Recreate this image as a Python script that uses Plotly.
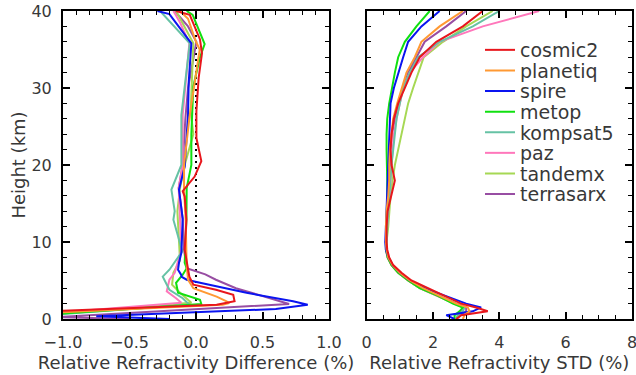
import plotly.graph_objects as go

# ---------------- data ----------------
names = ["cosmic2", "planetiq", "spire", "metop", "kompsat5", "paz", "tandemx", "terrasarx"]
colors = ["#e8161c", "#ff9933", "#0a14f0", "#10e010", "#66c2a5", "#ff77bb", "#a6d854", "#984ea3"]

# Relative refractivity difference (%) profiles: (height km, value)
cosmic2_diff_h = [0.85, 1.85, 2.3, 3.15, 3.8, 4.45, 5.5, 7.3, 9, 12.9, 15.9, 16.6, 18.5, 20.5, 23.5, 27, 31.3, 34.5, 36.3, 39.5, 40]
cosmic2_diff_x = [-1.3, 0.155, 0.29, 0.28, 0.15, -0.02, -0.05, -0.07, -0.085, -0.072, -0.085, -0.1, -0.01, 0.04, 0.003, 0.003, 0.02, 0.045, 0.03, -0.047, -0.15]

planetiq_diff_h = [0.65, 1.86, 2.07, 2.3, 2.9, 4.0, 5.1, 7.0, 13, 17, 20, 26.5, 35, 36, 39, 40]
planetiq_diff_x = [-1.3, 0.2, 0.25, 0.23, 0.155, -0.02, -0.06, -0.07, -0.078, -0.09, -0.09, -0.047, 0.028, 0.0, -0.06, -0.12]

spire_diff_h = [0.0, 0.35, 1.3, 1.86, 2.3, 3.4, 4.7, 5.1, 5.5, 5.7, 6.4, 7.3, 8.6, 13, 16.8, 19.8, 26.5, 30.7, 35.8, 39.6, 40]
spire_diff_x = [-0.2, -0.75, 0.6, 0.84, 0.73, 0.38, 0.03, -0.07, -0.11, -0.11, -0.135, -0.128, -0.11, -0.1, -0.128, -0.085, -0.06, -0.055, -0.035, -0.2, -0.29]

metop_diff_h = [0.35, 1.95, 2.5, 3.4, 4.7, 5.75, 6.6, 7.3, 13, 17, 20, 24, 30.2, 33.9, 35.7, 39.5, 40]
metop_diff_x = [-1.3, 0.04, 0.03, -0.135, -0.15, -0.1, -0.07, -0.085, -0.072, -0.07, -0.035, -0.035, -0.02, 0.028, 0.065, -0.025, -0.07]

kompsat5_diff_h = [0.25, 1.86, 2.7, 3.8, 5.5, 6.4, 8.8, 9.9, 12.9, 14, 16.8, 20, 26.5, 35.8, 40]
kompsat5_diff_x = [-1.3, -0.05, -0.1, -0.2, -0.25, -0.2, -0.103, -0.12, -0.17, -0.16, -0.185, -0.11, -0.11, -0.047, -0.27]

paz_diff_h = [0.45, 2.1, 2.7, 3.6, 5.1, 6.0, 9, 14, 17, 20, 26.5, 35.8, 38.5, 40]
paz_diff_x = [-1.3, -0.11, -0.15, -0.22, -0.2, -0.16, -0.11, -0.12, -0.13, -0.1, -0.1, -0.05, -0.12, -0.17]

tandemx_diff_h = [0.35, 2.1, 3.4, 4.45, 6.0, 7.6, 14, 17, 20, 24, 27, 35.8, 40]
tandemx_diff_x = [-1.3, -0.035, -0.12, -0.18, -0.17, -0.12, -0.14, -0.12, -0.085, -0.02, -0.04, -0.02, -0.15]

terrasarx_diff_h = [0.0, 0.25, 1.95, 3.0, 4.0, 5.1, 5.8, 6.6, 9, 13, 17, 20, 26, 30, 36, 38, 40]
terrasarx_diff_x = [-0.5, -1.05, 0.70, 0.5, 0.3, 0.15, 0.07, -0.07, -0.09, -0.1, -0.13, -0.1, -0.08, -0.06, 0.003, -0.06, -0.16]

# Relative refractivity STD (%) profiles on common heights
std_h = [0, 0.5, 1.0, 1.5, 2, 3, 4, 5, 6, 7, 8, 9, 10, 12, 14, 16, 18, 20, 22, 24, 26, 28, 30, 32, 34, 36, 38, 40]
cosmic2_std = [2.7, 2.85, 3.65, 3.3, 2.85, 2.35, 1.8, 1.35, 1.05, 0.8, 0.68, 0.62, 0.6, 0.6, 0.63, 0.75, 0.85, 0.75, 0.72, 0.75, 0.82, 0.95, 1.15, 1.35, 1.6, 2.1, 2.9, 3.5]
planetiq_std = [2.9, 2.95, 3.1, 3.05, 2.7, 2.2, 1.7, 1.3, 1.0, 0.78, 0.65, 0.6, 0.58, 0.58, 0.6, 0.65, 0.68, 0.68, 0.7, 0.75, 0.8, 0.92, 1.05, 1.2, 1.45, 1.65, 2.2, 2.9]
spire_std = [2.65, 2.4, 3.2, 3.45, 3.0, 2.4, 1.75, 1.3, 1.0, 0.78, 0.65, 0.58, 0.56, 0.58, 0.6, 0.62, 0.64, 0.65, 0.66, 0.68, 0.7, 0.72, 0.82, 0.95, 1.1, 1.25, 1.65, 2.2]
metop_std = [2.65, 2.65, 2.8, 2.9, 2.6, 2.15, 1.6, 1.25, 0.95, 0.75, 0.63, 0.58, 0.58, 0.6, 0.62, 0.62, 0.62, 0.6, 0.6, 0.6, 0.62, 0.68, 0.76, 0.85, 0.95, 1.15, 1.5, 1.9]
kompsat5_std = [2.7, 2.75, 2.9, 2.95, 2.7, 2.2, 1.65, 1.3, 1.0, 0.78, 0.65, 0.6, 0.6, 0.62, 0.65, 0.68, 0.72, 0.75, 0.8, 0.85, 0.9, 1.0, 1.1, 1.3, 1.55, 2.2, 3.2, 4.0]
paz_std = [2.75, 2.8, 2.85, 2.9, 2.65, 2.15, 1.6, 1.25, 0.95, 0.75, 0.63, 0.58, 0.58, 0.62, 0.66, 0.7, 0.72, 0.75, 0.78, 0.82, 0.9, 1.0, 1.1, 1.3, 1.7, 2.2, 3.5, 5.2]
tandemx_std = [2.7, 2.75, 2.85, 2.9, 2.65, 2.15, 1.6, 1.25, 0.95, 0.75, 0.63, 0.6, 0.6, 0.65, 0.68, 0.72, 0.78, 0.85, 0.95, 1.05, 1.15, 1.25, 1.4, 1.55, 1.72, 2.3, 3.0, 3.8]
terrasarx_std = [2.75, 2.8, 3.0, 3.0, 2.7, 2.2, 1.65, 1.3, 1.0, 0.78, 0.65, 0.6, 0.58, 0.6, 0.62, 0.66, 0.68, 0.7, 0.72, 0.76, 0.85, 0.95, 1.1, 1.25, 1.5, 1.75, 2.4, 3.0]

diff_x_ticks = [-1.0, -0.5, 0.0, 0.5, 1.0]
std_x_ticks = [0, 2, 4, 6, 8]
height_ticks = [0, 10, 20, 30, 40]

diff_data = [
    (cosmic2_diff_x, cosmic2_diff_h), (planetiq_diff_x, planetiq_diff_h),
    (spire_diff_x, spire_diff_h), (metop_diff_x, metop_diff_h),
    (kompsat5_diff_x, kompsat5_diff_h), (paz_diff_x, paz_diff_h),
    (tandemx_diff_x, tandemx_diff_h), (terrasarx_diff_x, terrasarx_diff_h),
]
std_data = [cosmic2_std, planetiq_std, spire_std, metop_std, kompsat5_std, paz_std, tandemx_std, terrasarx_std]

# ---------------- figure ----------------
FONT = "DejaVu Sans"
TXT = "#383838"
W, H = 636, 375
ML, MR, MT, MB = 63, 4, 11, 56
PW, PH = W - ML - MR, H - MT - MB

fig = go.Figure()

fig.add_trace(go.Scatter(x=[0, 0], y=[0, 40], mode="lines", xaxis="x", yaxis="y",
                         line=dict(color="black", width=2, dash="2px,4px"), showlegend=False, hoverinfo="skip"))

order = list(range(len(names)))[::-1]
for i in order:
    xs, hs = diff_data[i]
    fig.add_trace(go.Scatter(x=xs, y=hs, mode="lines", xaxis="x", yaxis="y",
                             line=dict(color=colors[i], width=2), showlegend=False, name=names[i]))

legend_ids = ["legend"] + [f"legend{k}" for k in range(2, len(names) + 1)]
for i in order:
    fig.add_trace(go.Scatter(x=std_data[i], y=std_h, mode="lines", xaxis="x2", yaxis="y2",
                             line=dict(color=colors[i], width=2), name=names[i], legend=legend_ids[i]))

axis_common = dict(showline=True, linecolor="black", linewidth=2, mirror="allticks",
                   ticks="inside", ticklen=7, tickwidth=1.5, tickcolor="black",
                   showgrid=False, zeroline=False, automargin=False, ticklabeloverflow="allow",
                   tickfont=dict(family=FONT, size=16, color=TXT))
minor_common = dict(ticks="inside", ticklen=4, tickcolor="black", tickwidth=1)
title_font = dict(family=FONT, size=18, color=TXT)

layout = dict(
    width=W, height=H,
    margin=dict(l=ML, r=MR, t=MT, b=MB, autoexpand=False),
    paper_bgcolor="white", plot_bgcolor="white",
    font=dict(family=FONT, size=16, color=TXT),
    xaxis=dict(domain=[0, 0.4675], range=[-1.0, 1.0], tickvals=diff_x_ticks, tickformat=".1f",
               ticklabelstandoff=8, minor=dict(dtick=0.1, **minor_common),
               title=dict(text="Relative Refractivity Difference (%)", standoff=2, font=title_font),
               **axis_common),
    yaxis=dict(domain=[0, 1], range=[0, 40], tickvals=height_ticks, ticklabelstandoff=6,
               minor=dict(dtick=2, **minor_common),
               title=dict(text="Height (km)", standoff=1, font=title_font),
               **axis_common),
    xaxis2=dict(domain=[0.5337, 1], range=[0, 8], tickvals=std_x_ticks, anchor="y2",
                ticklabelstandoff=8, minor=dict(dtick=0.5, **minor_common),
                title=dict(text="Relative Refractivity STD (%)", standoff=2, font=title_font),
                **axis_common),
    yaxis2=dict(domain=[0, 1], range=[0, 40], tickvals=height_ticks, anchor="x2", showticklabels=False,
                minor=dict(dtick=2, **minor_common),
                **axis_common),
    showlegend=True,
)

# one legend box per entry so the row spacing can follow the reference
for i, lid in enumerate(legend_ids):
    row_px = 50 + 20.6 * i
    layout[lid] = dict(x=(480 - ML) / PW, y=1 - (row_px - MT) / PH, xanchor="left", yanchor="middle",
                       bgcolor="rgba(0,0,0,0)", borderwidth=0, itemwidth=30,
                       font=dict(family=FONT, size=19, color=TXT))

fig.update_layout(**layout)
fig.write_html("out.html")
